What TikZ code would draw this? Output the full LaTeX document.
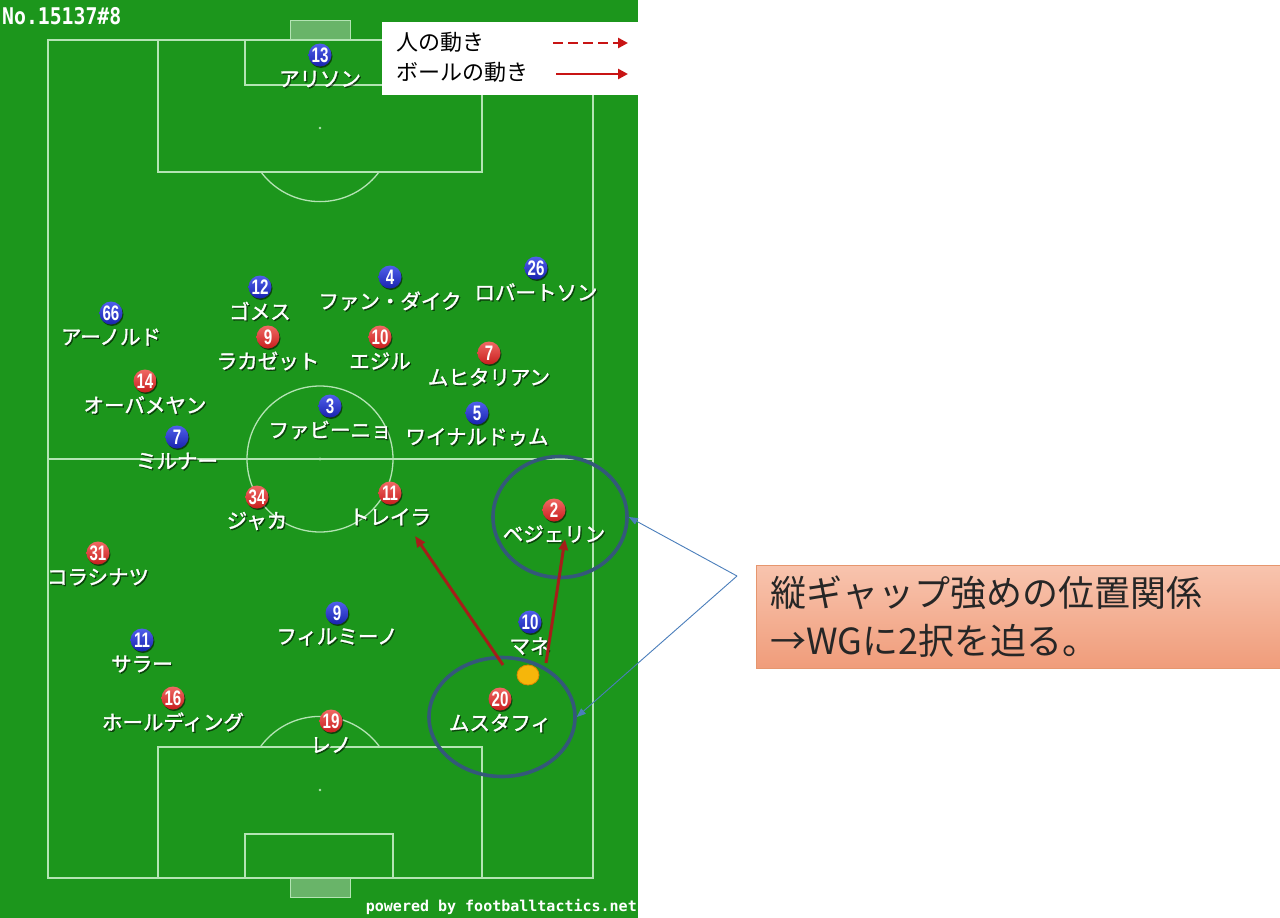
\documentclass[tikz,border=0pt]{standalone}
\usepackage{fontspec}
\usepackage{graphicx}
\usetikzlibrary{arrows.meta,shapes.geometric,shadows}
\newfontfamily\cjk{Noto Sans CJK JP}
\newfontfamily\cjkm[FakeBold=1.6]{Noto Sans CJK JP}
\newfontfamily\numf{Liberation Sans}
\newfontfamily\monof{DejaVu Sans Mono}
\definecolor{grass}{RGB}{28,150,28}
\definecolor{pline}{RGB}{180,228,180}
\definecolor{goalf}{RGB}{105,180,105}
\definecolor{redtop}{RGB}{240,105,100}
\definecolor{redbot}{RGB}{200,30,30}
\definecolor{bluetop}{RGB}{80,95,235}
\definecolor{bluebot}{RGB}{25,35,175}
\definecolor{ringc}{RGB}{52,88,122}
\definecolor{arrowred}{RGB}{165,30,25}
\definecolor{legred}{RGB}{200,20,20}
\definecolor{ptrc}{RGB}{74,126,187}
\definecolor{boxtop}{RGB}{248,196,174}
\definecolor{boxbot}{RGB}{240,156,122}
\definecolor{boxedge}{RGB}{230,150,110}
\definecolor{ballc}{RGB}{246,182,10}
\definecolor{balledge}{RGB}{225,135,0}
\tikzset{
  pitchline/.style={draw=pline, line width=1.3pt},
  plr/.style={circle, minimum size=23pt, inner sep=0pt, text=white,
    font=\numf\bfseries\fontsize{21}{21}\selectfont,
    drop shadow={shadow xshift=1pt, shadow yshift=-1.5pt, fill=black, opacity=0.55}},
  redp/.style={plr, top color=redtop, bottom color=redbot},
  bluep/.style={plr, top color=bluetop, bottom color=bluebot},
  pname/.style={text=white, inner sep=0pt, font=\cjkm\fontsize{20.5}{20.5}\selectfont},
  pshadow/.style={text=black, opacity=0.5, inner sep=0pt, font=\cjkm\fontsize{20.5}{20.5}\selectfont},
  ring/.style={draw=ringc, line width=3.6pt, ellipse, inner sep=0pt},
  ballmove/.style={draw=arrowred, line width=3pt, -{Triangle[length=11pt,width=9pt]}},
  legarrow/.style={draw=legred, line width=2.8pt, -{Triangle[length=10pt,width=10pt]}},
  pointer/.style={draw=ptrc, line width=0.9pt, -{Triangle[length=9pt,width=7pt]}},
  legtext/.style={inner sep=0pt, anchor=west, text=black, font=\cjk\fontsize{22}{22}\selectfont},
}
\newcommand\plyr[6]{%
  \node[#2] (#1) at (#3,#4) {\scalebox{0.72}[1]{#5}};
  \node[pshadow] (#1s) at (#3+1.3,#4+25.3) {#6};
  \node[pname] (#1l) at (#3,#4+24) {#6};
}
\begin{document}
\begin{tikzpicture}[x=1pt,y=-1pt]
\useasboundingbox (0,0) rectangle (1280,918);
\fill[white] (0,0) rectangle (1280,918);
\fill[grass] (0,0) rectangle (638,918);
% goals
\filldraw[fill=goalf, draw=pline, line width=1pt] (290,20) rectangle (350,40);
\filldraw[fill=goalf, draw=pline, line width=1pt] (290,878) rectangle (350,897);
% pitch
\draw[pitchline] (48,40) rectangle (593,878);
\draw[pitchline] (48,459) -- (593,459);
\draw[pitchline] (320,459) circle[radius=73pt];
\draw[pitchline] (158,40) rectangle (482,172);
\draw[pitchline] (245,40) rectangle (393,85);
\draw[pitchline] (158,747) rectangle (482,878);
\draw[pitchline] (245,834) rectangle (393,878);
\begin{scope}
  \clip (100,172) rectangle (540,260);
  \draw[pitchline] (320,128) circle[radius=73.6pt];
\end{scope}
\begin{scope}
  \clip (100,660) rectangle (540,747);
  \draw[pitchline] (320,790) circle[radius=73.6pt];
\end{scope}
\fill[pline] (320,128) circle[radius=1.3pt];
\fill[pline] (320,459) circle[radius=1.6pt];
\fill[pline] (320,790) circle[radius=1.3pt];
% title and credit
\node[anchor=west, inner sep=0pt, text=white, font=\monof\bfseries\fontsize{23}{23}\selectfont] (title) at (2,16) {\scalebox{0.86}[1]{No.15137\#8}};
\node[anchor=east, inner sep=0pt, text=white, font=\monof\bfseries\fontsize{15}{15}\selectfont] (credit) at (637,907) {powered by footballtactics.net};
% players: Liverpool (blue)
\plyr{b13}{bluep}{320}{55}{13}{アリソン}
\plyr{b12}{bluep}{260}{287}{12}{ゴメス}
\plyr{b4}{bluep}{390}{277}{4}{ファン・ダイク}
\plyr{b26}{bluep}{536}{268}{26}{ロバートソン}
\plyr{b66}{bluep}{111}{313}{66}{アーノルド}
\plyr{b3}{bluep}{330}{406}{3}{ファビーニョ}
\plyr{b5}{bluep}{477}{413}{5}{ワイナルドゥム}
\plyr{b7}{bluep}{177}{437}{7}{ミルナー}
\plyr{b9}{bluep}{337}{613}{9}{フィルミーノ}
\plyr{b11}{bluep}{142}{640}{11}{サラー}
\plyr{b10}{bluep}{530}{622}{10}{マネ}
% players: Arsenal (red)
\plyr{r9}{redp}{268}{337}{9}{ラカゼット}
\plyr{r10}{redp}{380}{337}{10}{エジル}
\plyr{r7}{redp}{489}{353}{7}{ムヒタリアン}
\plyr{r14}{redp}{145}{381}{14}{オーバメヤン}
\plyr{r34}{redp}{257}{497}{34}{ジャカ}
\plyr{r11}{redp}{390}{493}{11}{トレイラ}
\plyr{r2}{redp}{554}{510}{2}{ベジェリン}
\plyr{r31}{redp}{98}{553}{31}{コラシナツ}
\plyr{r16}{redp}{173}{698}{16}{ホールディング}
\plyr{r19}{redp}{331}{721}{19}{レノ}
\plyr{r20}{redp}{500}{699}{20}{ムスタフィ}
% rings
\node[ring, minimum width=134pt, minimum height=121pt] (ring1) at (560,517) {};
\node[ring, minimum width=146pt, minimum height=119pt] (ring2) at (502,717) {};
% ball movements
\coordinate (m1s) at (503,665);
\coordinate (m1e) at (415,536);
\coordinate (m2s) at (546,663);
\coordinate (m2e) at (565,539);
\draw[ballmove] (m1s) -- (m1e);
\draw[ballmove] (m2s) -- (m2e);
\node[ellipse, fill=ballc, draw=balledge, line width=0.8pt, minimum width=22pt, minimum height=20pt, inner sep=0pt] (ball) at (528,675) {};
% legend
\node[fill=white, minimum width=256pt, minimum height=73pt, inner sep=0pt, anchor=north west] (leg) at (382,22) {};
\node[legtext] (leg1) at (396,42) {人の動き};
\node[legtext] (leg2) at (396,72) {ボールの動き};
\coordinate (d1s) at (553,43);
\coordinate (d1e) at (628,43);
\coordinate (d2s) at (556,74);
\coordinate (d2e) at (628,74);
\draw[legarrow, dash pattern=on 10pt off 5pt] (d1s) -- (d1e);
\draw[legarrow] (d2s) -- (d2e);
% callout
\node[anchor=north west, minimum width=524pt, minimum height=103pt, text width=496pt, inner xsep=14pt, inner ysep=0pt, align=left,
  top color=boxtop, bottom color=boxbot, draw=boxedge, line width=1pt, text=black!85,
  font=\cjk\fontsize{36}{48}\selectfont] (cb) at (756,565) {縦ギャップ強めの位置関係\\→WGに2択を迫る。};
\coordinate (apex) at (737,576);
\draw[pointer] (apex) -- (ring1.east);
\draw[pointer] (apex) -- (ring2.east);
\end{tikzpicture}
\end{document}
